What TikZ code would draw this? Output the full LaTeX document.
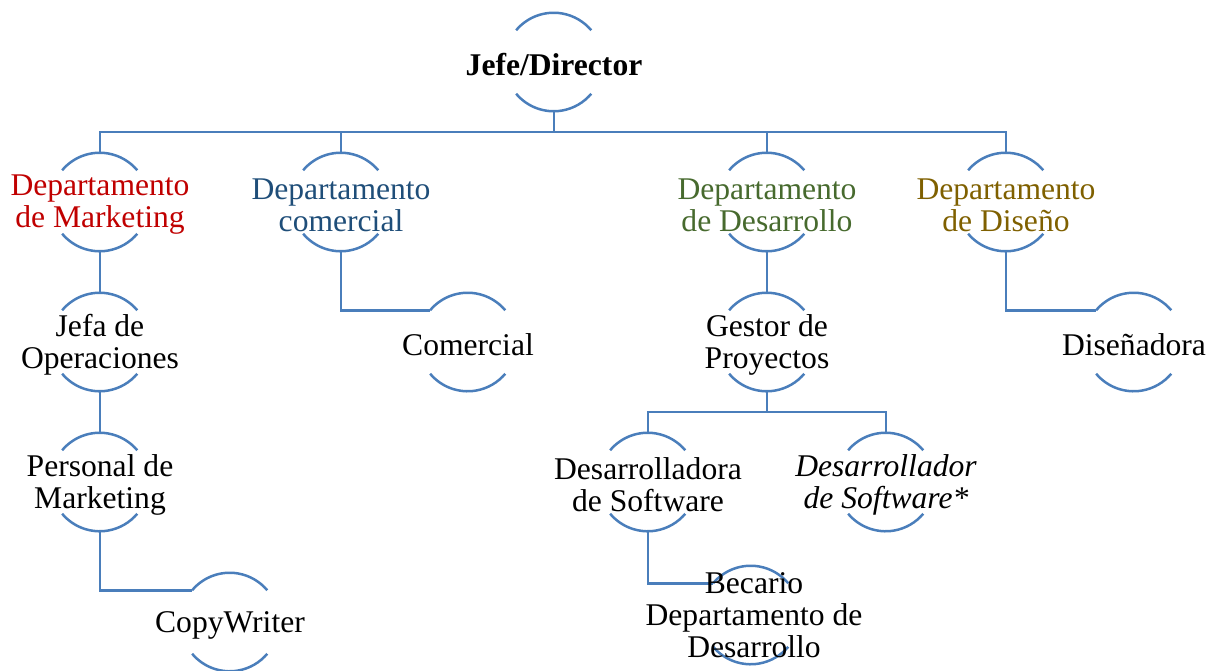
\documentclass[tikz,border=0pt]{standalone}
\usepackage{fontspec}
\setmainfont{Liberation Serif}
\usepackage{xcolor}
\usepackage{tikz}
\definecolor{linkblue}{HTML}{4A7EBB}
\definecolor{mkred}{HTML}{C00000}
\definecolor{coblue}{HTML}{1F4E79}
\definecolor{degreen}{HTML}{476A2E}
\definecolor{dsbrown}{HTML}{7F6000}
\tikzset{ring/.style={circle,minimum size=49pt,inner sep=0pt},
    lbl/.style={align=center,inner sep=0pt,yshift=-1.5pt,font=\fontsize{15.8}{16}\selectfont},
    link/.style={draw=linkblue,line width=1.25pt}}

\begin{document}
\begin{tikzpicture}[x=0.5pt,y=0.5pt]
        \useasboundingbox (0,0) rectangle (1210,-670);

        \node[ring] (top)at (554,-62) {};
        \node[ring] (mkt)at (100,-202) {};
        \node[ring] (com)at (341,-202) {};
        \node[ring] (des)at (767,-202) {};
        \node[ring] (dis)at (1006,-202) {};
        \node[ring] (jop)at (100,-342) {};
        \node[ring] (cml)at (468,-342) {};
        \node[ring] (gpr)at (767,-342) {};
        \node[ring] (dsn)at (1134,-342) {};
        \node[ring] (pmk)at (100,-482) {};
        \node[ring] (dsa)at (648,-482) {};
        \node[ring] (dsb)at (886,-482) {};
        \node[ring] (cpw)at (230,-622) {};
        \node[ring] (bec)at (751,-615) {};

        \coordinate (bus)at (554,-132);
        \coordinate (sub)at (767,-412);

        \draw [link] (top) -- (bus);
        \draw [link] (mkt.north) |- (bus) -| (dis.north);
        \draw [link] (com.north) -- (com.north |- bus);
        \draw [link] (des.north) -- (des.north |- bus);
        \draw [link] (mkt) -- (jop);
        \draw [link] (jop) -- (pmk);
        \draw [link] (pmk.south) |- (cpw.140);
        \draw [link] (com.south) |- (cml.140);
        \draw [link] (des) -- (gpr);
        \draw [link] (dis.south) |- (dsn.140);
        \draw [link] (gpr.south) -- (sub);
        \draw [link] (dsa.north) |- (sub) -| (dsb.north);
        \draw [link] (dsa.south) |- (bec.140);

        \foreach \n in {top,mkt,com,des,dis,jop,cml,gpr,dsn,pmk,dsa,dsb,cpw,bec}{
            \draw [link] (\n.140) arc[start angle=140,end angle=40,radius=24.5pt];
            \draw [link] (\n.220) arc[start angle=220,end angle=320,radius=24.5pt];
        }

        \node[lbl] (top-t)at (top) {\textbf{Jefe/Director}};
        \node[lbl,text=mkred] (mkt-t)at (mkt) {Departamento\\de Marketing};
        \node[lbl,text=coblue] (com-t)at (com) {Departamento\\comercial};
        \node[lbl,text=degreen] (des-t)at (des) {Departamento\\de Desarrollo};
        \node[lbl,text=dsbrown] (dis-t)at (dis) {Departamento\\de Diseño};
        \node[lbl] (jop-t)at (jop) {Jefa de\\Operaciones};
        \node[lbl] (cml-t)at (cml) {Comercial};
        \node[lbl] (gpr-t)at (gpr) {Gestor de\\Proyectos};
        \node[lbl] (dsn-t)at (dsn) {Diseñadora};
        \node[lbl] (pmk-t)at (pmk) {Personal de\\Marketing};
        \node[lbl] (dsa-t)at (dsa) {Desarrolladora\\de Software};
        \node[lbl,font=\fontsize{15.8}{16}\selectfont\itshape] (dsb-t)at (dsb) {Desarrollador\\de Software*};
        \node[lbl] (cpw-t)at (cpw) {CopyWriter};
        \node[lbl] (bec-t)at ([xshift=1.5pt,yshift=1.5pt]bec) {Becario\\Departamento de\\Desarrollo};
    \end{tikzpicture}
\end{document}
